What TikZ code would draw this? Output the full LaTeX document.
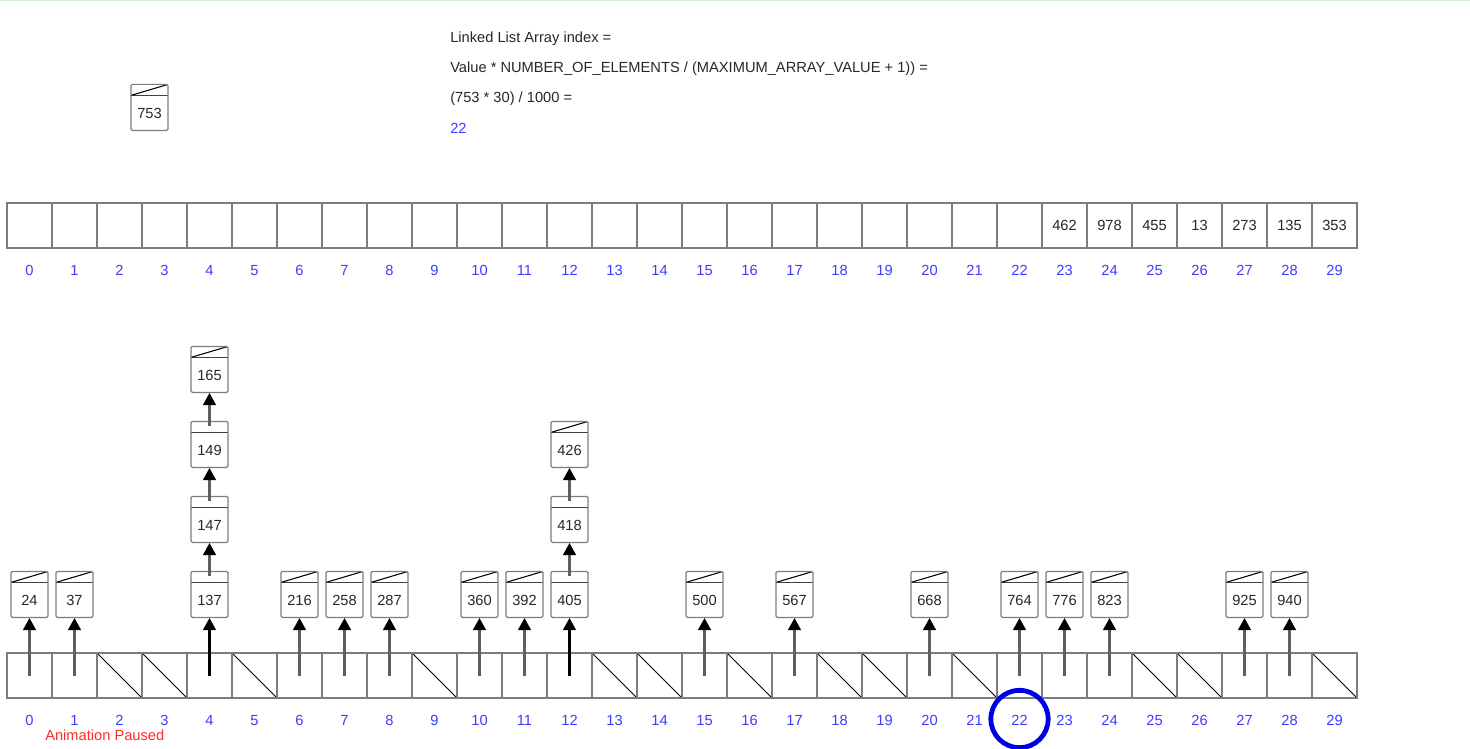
\documentclass[tikz,border=0pt]{standalone}
\usepackage{fontspec}
\setmainfont{Liberation Sans}
\usetikzlibrary{arrows.meta,calc}
\definecolor{idxblue}{RGB}{60,60,255}
\definecolor{boxgray}{RGB}{125,125,125}
\definecolor{txtgray}{RGB}{40,40,40}
\definecolor{pausered}{RGB}{255,45,45}
\definecolor{topgreen}{RGB}{212,238,212}
\definecolor{ptrgray}{RGB}{95,95,95}
\definecolor{hlblue}{RGB}{0,0,230}
\begin{document}
\begin{tikzpicture}[x=0.75pt,y=-0.75pt,
  font=\fontsize{11}{13}\selectfont,
  cell/.style={draw=boxgray, line width=0.9pt, minimum width=33.75pt, minimum height=33.75pt, inner sep=0pt, text=txtgray},
  nullcell/.style={cell, path picture={\draw[black, line width=0.6pt] (path picture bounding box.north west) -- (path picture bounding box.south east);}},
  idx/.style={text=idxblue, anchor=base, inner sep=0pt},
  lnode/.style={draw=boxgray, rounded corners=1pt, line width=0.9pt, fill=white, minimum width=27.75pt, inner sep=0pt, text height=25.5pt, text depth=9pt, text=txtgray, anchor=south,
    path picture={\draw[black!75, line width=1.1pt] ($(path picture bounding box.north west)+(0pt,-8.25pt)$) -- ($(path picture bounding box.north east)+(0pt,-8.25pt)$);}},
  lnull/.style={lnode,
    path picture={\draw[black!75, line width=1.1pt] ($(path picture bounding box.north west)+(0pt,-8.25pt)$) -- ($(path picture bounding box.north east)+(0pt,-8.25pt)$);
      \draw[black, line width=0.8pt] ($(path picture bounding box.north west)+(0pt,-8.25pt)$) -- (path picture bounding box.north east);}},
  ptr/.style={draw=ptrgray, line width=1.6pt, -{Triangle[width=9.5pt,length=9pt,color=black,fill=black]}},
  ptrdark/.style={ptr, draw=black},
  formula/.style={anchor=base west, inner sep=0pt, text=txtgray}
]
\useasboundingbox (0,0) rectangle (1470,749);
\clip (0,0) rectangle (1470,749);
\fill[white] (0,0) rectangle (1470,749);
\draw[topgreen, line width=1pt] (0,0.7) -- (1470,0.7);

% formula text
\node[formula] (f1) at (450,43) {Linked List Array index =};
\node[formula] (f2) at (450,73) {Value * NUMBER\_OF\_ELEMENTS / (MAXIMUM\_ARRAY\_VALUE + 1)) =};
\node[formula] (f3) at (450,103) {(753 * 30) / 1000 =};
\node[formula, text=idxblue] (f4) at (450,133) {22};

% element being inserted
\node[lnull] (n753) at (149.5,131) {753};

% top array
\foreach \i in {0,...,22} {
  \node[cell] (t\i) at ({29.5+45*\i},225.5) {};
}
\foreach \i/\v in {23/462,24/978,25/455,26/13,27/273,28/135,29/353} {
  \node[cell] (t\i) at ({29.5+45*\i},225.5) {\v};
}
\foreach \i in {0,...,29} {
  \node[idx] (ti\i) at ({29.5+45*\i},275) {\i};
}

% bottom array
\foreach \i in {0,1,4,6,7,8,10,11,12,15,17,20,22,23,24,27,28} {
  \node[cell] (b\i) at ({29.5+45*\i},675.5) {};
}
\foreach \i in {2,3,5,9,13,14,16,18,19,21,25,26,29} {
  \node[nullcell] (b\i) at ({29.5+45*\i},675.5) {};
}
\foreach \i in {0,...,29} {
  \node[idx] (bi\i) at ({29.5+45*\i},725) {\i};
}

% single-element lists
\foreach \i/\v in {0/24,1/37,6/216,7/258,8/287,10/360,11/392,15/500,17/567,20/668,22/764,23/776,24/823,27/925,28/940} {
  \node[lnull] (n\v) at ({29.5+45*\i},618) {\v};
  \draw[ptr] (b\i.center) -- (n\v.south);
}

% chain at index 4
\node[lnode] (n137) at (209.5,618) {137};
\node[lnode] (n147) at (209.5,543) {147};
\node[lnode] (n149) at (209.5,468) {149};
\node[lnull] (n165) at (209.5,393) {165};
\draw[ptrdark] (b4.center) -- (n137.south);
\draw[ptr] ($(n137.north)+(0,5.5)$) -- (n147.south);
\draw[ptr] ($(n147.north)+(0,5.5)$) -- (n149.south);
\draw[ptr] ($(n149.north)+(0,5.5)$) -- (n165.south);

% chain at index 12
\node[lnode] (n405) at (569.5,618) {405};
\node[lnode] (n418) at (569.5,543) {418};
\node[lnull] (n426) at (569.5,468) {426};
\draw[ptrdark] (b12.center) -- (n405.south);
\draw[ptr] ($(n405.north)+(0,5.5)$) -- (n418.south);
\draw[ptr] ($(n418.north)+(0,5.5)$) -- (n426.south);

% highlight circle
\node[circle, draw=hlblue, line width=3.6pt, minimum size=43pt, inner sep=0pt] (hl) at ($(bi22.base)+(0,-6)$) {};

% status
\node[anchor=base west, inner sep=0pt, text=pausered] (status) at (45,740) {Animation Paused};
\end{tikzpicture}
\end{document}
